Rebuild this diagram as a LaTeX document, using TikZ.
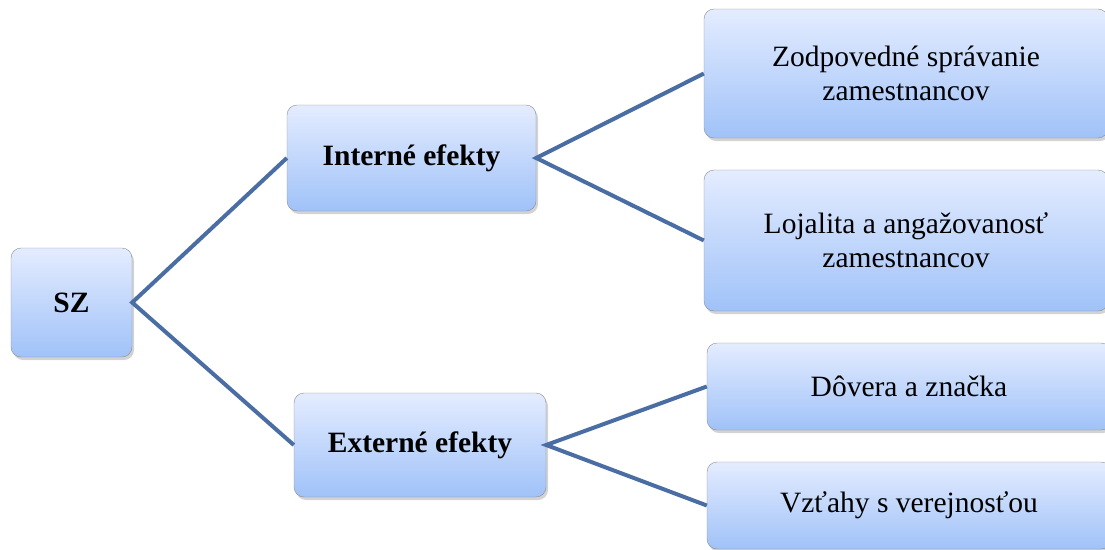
\documentclass[tikz,border=0pt]{standalone}
\usepackage{fontspec}
\setmainfont{Liberation Serif}
\usetikzlibrary{shadows}
\definecolor{linkblue}{RGB}{74,110,164}
\definecolor{boxtop}{RGB}{228,236,255}
\definecolor{boxbottom}{RGB}{160,194,248}
\begin{document}
\begin{tikzpicture}[
    x=1pt, y=-1pt,
    box/.style={draw=gray!90, thin, rounded corners=10pt, top color=boxtop, bottom color=boxbottom,
                drop shadow={shadow xshift=2pt, shadow yshift=-3pt, opacity=0.35},
                align=center, inner sep=2pt, font=\fontsize{29.5}{34}\selectfont},
    headbox/.style={box, font=\fontsize{29.5}{34}\selectfont\bfseries},
    link/.style={draw=linkblue, line width=4pt}
]
\useasboundingbox (0,0) rectangle (1105,549);
\clip (0,0) rectangle (1105,549);

% hlavne uzly
\node[headbox, minimum width=121pt, minimum height=109pt] (sz)  at (71.5,302.5) {SZ};
\node[headbox, minimum width=249pt, minimum height=106pt] (int) at (411.5,158) {Interné efekty};
\node[headbox, minimum width=252pt, minimum height=104pt] (ext) at (420,445) {Externé efekty};

% efekty
\node[box, minimum width=404pt, minimum height=129pt] (zod) at (906,73.5) {Zodpovedné správanie\\zamestnancov};
\node[box, minimum width=404pt, minimum height=141pt] (loj) at (906,240.5) {Lojalita a angažovanosť\\zamestnancov};
\node[box, minimum width=404pt, minimum height=87pt]  (dov) at (909,386.5) {Dôvera a značka};
\node[box, minimum width=404pt, minimum height=87pt]  (vzt) at (909,505.5) {Vzťahy s verejnosťou};

% spojnice
\draw[link] (int.west) -- (sz.east) -- (ext.west);
\draw[link] (zod.west) -- (int.east) -- (loj.west);
\draw[link] (dov.west) -- (ext.east) -- (vzt.west);

\end{tikzpicture}
\end{document}
